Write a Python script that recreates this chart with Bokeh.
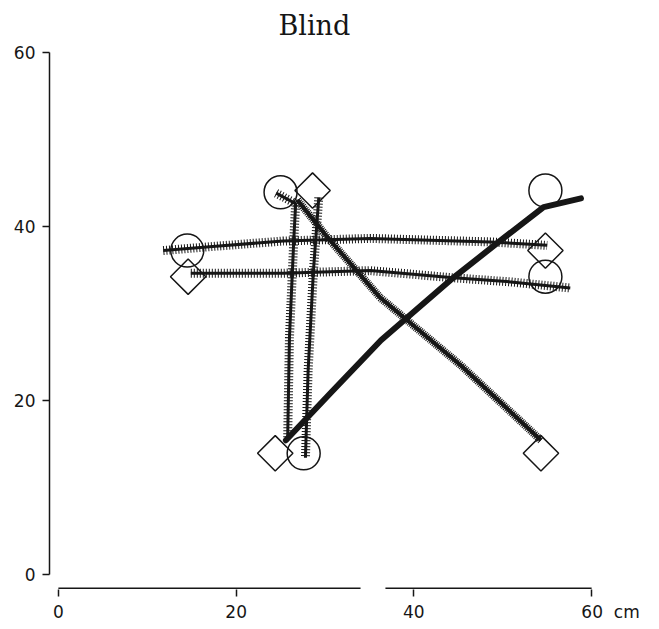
import math
from bokeh.plotting import figure
from bokeh.models import Range1d, FixedTicker
from bokeh.embed import file_html
from bokeh.resources import INLINE

# ---- data (cm) ----
x_ticks = [0, 20, 40, 60]
y_ticks = [0, 20, 40, 60]
NB = "\u00a0"
x_tick_labels = {60: NB * 7 + "60" + NB * 2 + "cm"}

circle_x = [14.5, 25.0, 54.8, 54.8, 27.6]
circle_y = [37.2, 43.9, 44.1, 34.2, 13.9]
diamond_x = [14.6, 28.6, 54.8, 54.3, 24.4]
diamond_y = [34.2, 44.1, 37.2, 13.9, 13.9]

# hatched trajectories
traj_a_x = [11.8, 17.7, 25.3, 35.1, 48.6, 55.0]
traj_a_y = [37.2, 37.7, 38.3, 38.6, 38.2, 37.8]
traj_b_x = [14.9, 25.3, 35.1, 44.1, 50.9, 57.6]
traj_b_y = [34.6, 34.6, 34.9, 34.1, 33.6, 32.9]
traj_c_x = [24.5, 26.7, 26.5, 26.0, 25.8]
traj_c_y = [43.8, 42.6, 38.7, 27.2, 15.7]
traj_d_x = [29.3, 28.7, 28.1, 27.8]
traj_d_y = [43.3, 34.9, 23.4, 13.4]
traj_e_x = [26.9, 30.3, 36.2, 45.3, 54.3]
traj_e_y = [43.0, 38.7, 31.8, 24.0, 15.4]
# solid trajectory
traj_f_x = [25.6, 30.6, 36.3, 44.1, 49.8, 54.6, 58.8]
traj_f_y = [15.4, 20.8, 26.9, 33.8, 38.4, 42.2, 43.2]

# x-axis line pieces (the axis line is broken in the original)
axis_x0 = [0, 36.8]
axis_x1 = [34.0, 60]
axis_y = [-1.6, -1.6]

INK = "#161616"

p = figure(width=655, height=625,
           x_range=Range1d(-1.0, 61), y_range=Range1d(-1.75, 61),
           output_backend="svg", toolbar_location=None,
           min_border_left=49, min_border_right=55,
           min_border_top=43, min_border_bottom=36,
           title="Blind")
p.grid.visible = False
p.outline_line_color = None
p.background_fill_color = "white"
p.border_fill_color = "white"

p.title.text_font = "DejaVu Serif"
p.title.text_font_size = "27px"
p.title.text_font_style = "normal"
p.title.text_color = INK
p.title.align = "left"
p.title.offset = 229
p.title.standoff = 6

for ax in (p.xaxis[0], p.yaxis[0]):
    ax.major_tick_in = 0
    ax.major_tick_out = 7
    ax.minor_tick_line_color = None
    ax.major_tick_line_color = INK
    ax.major_tick_line_width = 1.5
    ax.major_label_text_font = "DejaVu Sans"
    ax.major_label_text_font_size = "17px"
    ax.major_label_text_color = INK
    ax.bounds = (0, 60)

p.xaxis.ticker = FixedTicker(ticks=x_ticks)
p.yaxis.ticker = FixedTicker(ticks=y_ticks)
p.xaxis.major_label_overrides = x_tick_labels
p.xaxis.axis_line_color = None
p.xaxis.major_label_standoff = 5
p.yaxis.axis_line_color = INK
p.yaxis.axis_line_width = 1.5
p.yaxis.major_label_standoff = 7

p.segment(x0=axis_x0, y0=axis_y, x1=axis_x1, y1=axis_y, line_color=INK, line_width=1.6)

# hatched trajectories: wide dashed stroke gives perpendicular tick marks
for tx, ty in [(traj_a_x, traj_a_y), (traj_b_x, traj_b_y),
               (traj_c_x, traj_c_y), (traj_d_x, traj_d_y)]:
    p.line(tx, ty, line_color=INK, line_width=9, line_dash="1 2", line_cap="butt")
    p.line(tx, ty, line_color=INK, line_width=3)

p.line(traj_e_x, traj_e_y, line_color=INK, line_width=8, line_dash="1 1", line_cap="butt")
p.line(traj_e_x, traj_e_y, line_color=INK, line_width=4)

p.line(traj_f_x, traj_f_y, line_color=INK, line_width=6, line_cap="round", line_join="round")

p.scatter(circle_x, circle_y, marker="circle", size=33, fill_color=None,
          line_color=INK, line_width=1.5)
p.scatter(diamond_x, diamond_y, marker="square", size=25, angle=math.pi / 4,
          fill_color=None, line_color=INK, line_width=1.5)

open("out.html", "w").write(file_html(p, INLINE))
